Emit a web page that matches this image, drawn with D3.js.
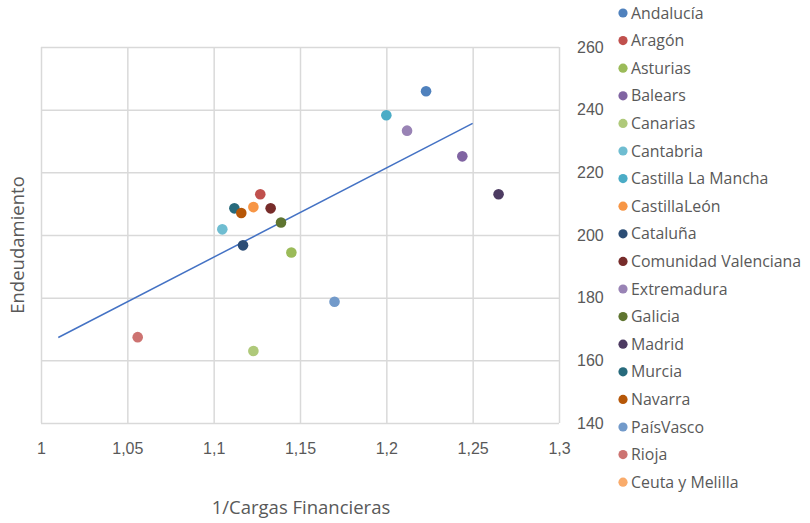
<!DOCTYPE html>
<html>
<head>
<meta charset="utf-8">
<script src="https://cdn.jsdelivr.net/npm/d3@7"></script>
<style>
  html, body { margin: 0; padding: 0; background: #fff; }
  svg { display: block; font-family: "Open Sans", "Liberation Sans", sans-serif; }
</style>
</head>
<body>
<svg id="chart" width="810" height="523"></svg>
<script>
// ---- data ----
const regions = ["Andalucía","Aragón","Asturias","Balears","Canarias","Cantabria","Castilla La Mancha","CastillaLeón","Cataluña","Comunidad Valenciana","Extremadura","Galicia","Madrid","Murcia","Navarra","PaísVasco","Rioja","Ceuta y Melilla"];
const xValues = [1.223, 1.127, 1.145, 1.244, 1.123, 1.105, 1.200, 1.123, 1.117, 1.133, 1.212, 1.139, 1.265, 1.112, 1.116, 1.170, 1.056, null];
const yValues = [245.9, 213.0, 194.4, 225.1, 163.0, 201.8, 238.2, 208.9, 196.7, 208.5, 233.3, 204.0, 213.0, 208.5, 207.0, 178.7, 167.4, null];
const colors = ["#4F81BD","#C0504D","#9BBB59","#8064A2","#AFC97A","#6FBDD1","#4BACC6","#F79646","#2C4D75","#772C2A","#9983B5","#5F7530","#4D3B62","#276A7C","#B65708","#729ACA","#CD7371","#F9AB6B"];
const trendX = [1.01, 1.25];
const trendY = [167.3, 235.6];
const xTicks = [1, 1.05, 1.1, 1.15, 1.2, 1.25, 1.3];
const yTicks = [140, 160, 180, 200, 220, 240, 260];
const xTitle = "1/Cargas Financieras";
const yTitle = "Endeudamiento";

// ---- layout ----
const svg = d3.select("#chart");
const plot = {left: 41, right: 559, top: 47, bottom: 423};
const x = d3.scaleLinear().domain([1, 1.3]).range([plot.left, plot.right]);
const y = d3.scaleLinear().domain([140, 260]).range([plot.bottom, plot.top]);
const fmt = d => String(+d.toFixed(2)).replace(".", ",");
const textColor = "#595959";
const gridColor = "#d9d9d9";

// grid
const gx = svg.append("g").attr("transform", `translate(0,${plot.bottom})`)
  .call(d3.axisBottom(x).tickValues(xTicks).tickSize(-(plot.bottom - plot.top)).tickFormat(fmt).tickPadding(20));
gx.select(".domain").remove();
gx.selectAll(".tick line").attr("stroke", gridColor).attr("stroke-width", 1.5);
gx.selectAll(".tick text").attr("fill", textColor).style("font-size", "16px");

const gy = svg.append("g").attr("transform", `translate(${plot.left},0)`)
  .call(d3.axisLeft(y).tickValues(yTicks).tickSize(-(plot.right - plot.left)).tickFormat(""));
gy.select(".domain").remove();
gy.selectAll(".tick line").attr("stroke", gridColor).attr("stroke-width", 1.5);

// y labels on the right
const gyl = svg.append("g").attr("transform", `translate(${plot.right + 18},0)`)
  .call(d3.axisRight(y).tickValues(yTicks).tickSize(0).tickPadding(0).tickFormat(d3.format("d")));
gyl.select(".domain").remove();
gyl.selectAll(".tick text").attr("fill", textColor).style("font-size", "16px");

// trendline
svg.append("path")
  .datum(trendX.map((d, i) => [d, trendY[i]]))
  .attr("d", d3.line().x(d => x(d[0])).y(d => y(d[1])))
  .attr("stroke", "#4472C4").attr("stroke-width", 1.5).attr("fill", "none");

// points
const pts = regions.map((r, i) => ({r, x: xValues[i], y: yValues[i], c: colors[i]}))
  .filter(d => d.x != null && d.y != null);
svg.append("g").selectAll("circle").data(pts).join("circle")
  .attr("cx", d => x(d.x)).attr("cy", d => y(d.y)).attr("r", 5.3)
  .attr("fill", d => d.c);

// axis titles
svg.append("text").attr("x", 301).attr("y", 514).attr("text-anchor", "middle")
  .attr("fill", textColor).style("font-size", "18.5px").text(xTitle);
svg.append("text").attr("transform", "translate(24,245) rotate(-90)").attr("text-anchor", "middle")
  .attr("fill", textColor).style("font-size", "18.5px").text(yTitle);

// legend
const leg = svg.append("g").selectAll("g").data(regions).join("g")
  .attr("transform", (d, i) => `translate(623,${13 + i * 27.6})`);
leg.append("circle").attr("r", 4.6).attr("fill", (d, i) => colors[i]);
leg.append("text").attr("x", 8).attr("dy", "0.35em").attr("fill", textColor)
  .style("font-size", "15.9px").text(d => d);
</script>
</body>
</html>
